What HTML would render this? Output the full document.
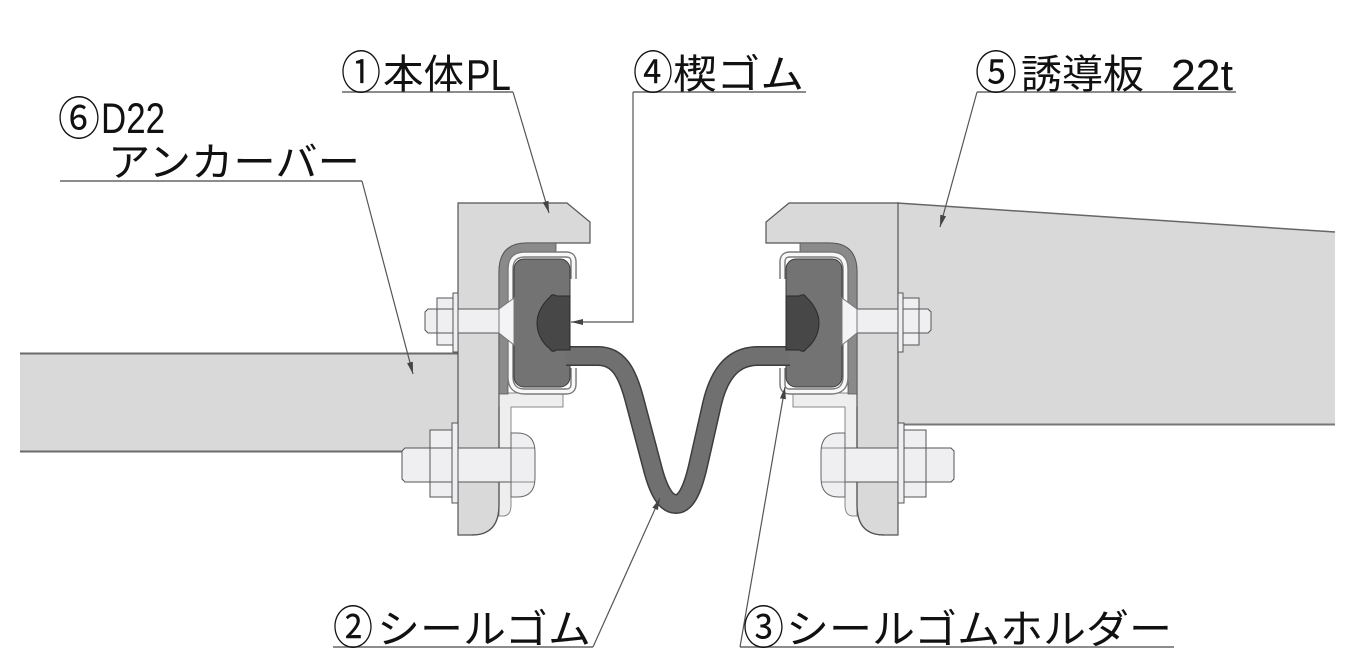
<!DOCTYPE html>
<html>
<head>
<meta charset="utf-8">
<style>
  html,body{margin:0;padding:0;background:#fff;}
  svg{display:block;}
  .jpc{font-family:"Noto Sans CJK JP",sans-serif;fill:#111;}
  .lat{font-family:"Liberation Sans",sans-serif;fill:#111;}
</style>
</head>
<body>
<svg width="1359" height="656" viewBox="0 0 1359 656" xmlns="http://www.w3.org/2000/svg">
  <defs>
    <marker id="ah" markerUnits="userSpaceOnUse" markerWidth="13" markerHeight="7" refX="12" refY="3" orient="auto">
      <path d="M0,0 L12,3 L0,6 Z" fill="#444"/>
    </marker>

    <g id="asmA">
      <path d="M499,393 H563 V407 H511 V505 Q511,516 503,516 H499 Z" fill="#eeeeee" stroke="#8a8a8a" stroke-width="1"/>
      <path d="M458,203 H567 L590,222 V243 H527 Q499,243 499,272 V393 H499 V505 Q499,535 472,535 H458 Z" fill="#d9d9d9" stroke="#555" stroke-width="1.2"/>
      <path d="M499,407 V505 Q499,535 472,535" fill="none" stroke="#555" stroke-width="1.2"/>
      <path d="M556,243 H527 Q499,243 499,272 V394 H508 V276 Q508,252 532,252 H556 Z" fill="#8a8a8a" stroke="#555" stroke-width="0.8"/>
      <path d="M573.5,279 V262 Q573.5,254.5 566,254.5 H525 Q510.5,254.5 510.5,269 V377 Q510.5,391.5 525,391.5 H566 Q573.5,391.5 573.5,384 V368" fill="none" stroke="#7a7a7a" stroke-width="6.5"/>
      <path d="M573.5,279 V262 Q573.5,254.5 566,254.5 H525 Q510.5,254.5 510.5,269 V377 Q510.5,391.5 525,391.5 H566 Q573.5,391.5 573.5,384 V368" fill="none" stroke="#f8f8f8" stroke-width="3.6"/>
      <rect x="514" y="259" width="56" height="128" rx="10" ry="10" fill="#737373" stroke="#3a3a3a" stroke-width="1"/>
      <path d="M428,309 H500 V333 H428 L425,330 V312 Z" fill="#efeff2" stroke="#555" stroke-width="1"/>
      <path d="M499,309 L514,298 V345 L499,333 Z" fill="#f4f4f6" stroke="#777" stroke-width="1"/>
      <rect x="437" y="298" width="16" height="47" fill="#efeff2" stroke="#555" stroke-width="1"/>
      <line x1="437" y1="309" x2="453" y2="309" stroke="#555" stroke-width="1"/>
      <line x1="437" y1="333" x2="453" y2="333" stroke="#555" stroke-width="1"/>
      <rect x="453" y="293" width="5" height="59" fill="#efeff2" stroke="#555" stroke-width="1"/>
      <path d="M405,448 H512 V482 H405 L402,479 V451 Z" fill="#efeff2" stroke="#555" stroke-width="1"/>
      <path d="M511,433 H517 Q535,433 535,452 V478 Q535,497 517,497 H511 Z" fill="#efeff2" stroke="#666" stroke-width="1"/>
      <line x1="511" y1="448" x2="535" y2="448" stroke="#666" stroke-width="0.8"/>
      <line x1="511" y1="482" x2="535" y2="482" stroke="#666" stroke-width="0.8"/>
      <rect x="430" y="430" width="22" height="67" fill="#efeff2" stroke="#555" stroke-width="1"/>
      <line x1="430" y1="448" x2="452" y2="448" stroke="#555" stroke-width="1"/>
      <line x1="430" y1="482" x2="452" y2="482" stroke="#555" stroke-width="1"/>
      <rect x="452" y="423" width="6" height="80" fill="#efeff2" stroke="#555" stroke-width="1"/>
    </g>

    <g id="asmB">
      <path d="M570,296 H557 Q552,293 550,297 C541,305 537,315 537,323 C537,332 541,342 550,349 Q552,353 557,350 H570 Z" fill="#474747" stroke="#2a2a2a" stroke-width="1"/>
    </g>
  </defs>

  <rect x="20" y="353" width="440" height="99" fill="#d9d9d9"/>
  <line x1="20" y1="353.5" x2="460" y2="353.5" stroke="#6a6a6a" stroke-width="2"/>
  <line x1="20" y1="451.5" x2="460" y2="451.5" stroke="#6a6a6a" stroke-width="2"/>

  <polygon points="897,203 1335,232 1335,425 897,425" fill="#d9d9d9"/>
  <line x1="897" y1="203" x2="1335" y2="232" stroke="#666" stroke-width="1.5"/>
  <line x1="897" y1="424.5" x2="1335" y2="424.5" stroke="#777" stroke-width="2"/>

  <use href="#asmA"/>
  <use href="#asmA" transform="translate(1356,0) scale(-1,1)"/>

  <path d="M566,356 H598 C618,356 627,372 634,398 L652,466 C659,494 667,504 676,504 C685,504 692,492 698,466 L712,404 C719,374 733,356 758,356 H790" fill="none" stroke="#3d3d3d" stroke-width="20" stroke-linejoin="round"/>
  <path d="M566,356 H598 C618,356 627,372 634,398 L652,466 C659,494 667,504 676,504 C685,504 692,492 698,466 L712,404 C719,374 733,356 758,356 H790" fill="none" stroke="#707070" stroke-width="17" stroke-linejoin="round"/>

  <use href="#asmB"/>
  <use href="#asmB" transform="translate(1356,0) scale(-1,1)"/>

  <g fill="none" stroke="#666" stroke-width="1.4">
    <line x1="342" y1="92" x2="513" y2="92"/>
    <line x1="633" y1="92" x2="806" y2="92"/>
    <line x1="977" y1="92" x2="1236" y2="92"/>
    <line x1="60" y1="181" x2="362" y2="181"/>
    <line x1="333" y1="647" x2="593" y2="647"/>
    <line x1="740" y1="647" x2="1174" y2="647"/>
  </g>
  <g fill="none" stroke="#555" stroke-width="1.2">
    <path d="M513,92 L549,213" marker-end="url(#ah)"/>
    <path d="M633,92 V322 H571" marker-end="url(#ah)"/>
    <path d="M977,92 L940,227" marker-end="url(#ah)"/>
    <path d="M362,181 L413,374" marker-end="url(#ah)"/>
    <path d="M593,647 L660,498" marker-end="url(#ah)"/>
    <path d="M740,647 L785,387" marker-end="url(#ah)"/>
  </g>

  <!-- labels -->
  <text class="jpc" x="341" y="89" font-size="46" textLength="40" lengthAdjust="spacingAndGlyphs">①</text>
  <text class="jpc" x="383" y="88" font-size="40" textLength="81" lengthAdjust="spacingAndGlyphs">本体</text>
  <text class="lat" x="466" y="90" font-size="44" textLength="45" lengthAdjust="spacingAndGlyphs">PL</text>

  <text class="jpc" x="633" y="89" font-size="46" textLength="40" lengthAdjust="spacingAndGlyphs">④</text>
  <text class="jpc" x="673" y="88" font-size="40" textLength="131" lengthAdjust="spacingAndGlyphs">楔ゴム</text>

  <text class="jpc" x="975" y="89" font-size="46" textLength="42" lengthAdjust="spacingAndGlyphs">⑤</text>
  <text class="jpc" x="1021" y="88" font-size="40" textLength="123" lengthAdjust="spacingAndGlyphs">誘導板</text>
  <text class="lat" x="1171" y="90" font-size="44" textLength="62" lengthAdjust="spacingAndGlyphs">22t</text>

  <text class="jpc" x="58" y="135" font-size="46" textLength="42" lengthAdjust="spacingAndGlyphs">⑥</text>
  <text class="lat" x="101" y="133" font-size="43" textLength="64" lengthAdjust="spacingAndGlyphs">D22</text>
  <text class="jpc" x="108" y="176" font-size="40" textLength="252" lengthAdjust="spacingAndGlyphs">アンカーバー</text>

  <text class="jpc" x="333" y="644" font-size="46" textLength="40" lengthAdjust="spacingAndGlyphs">②</text>
  <text class="jpc" x="377" y="643" font-size="40" textLength="214" lengthAdjust="spacingAndGlyphs">シールゴム</text>
  <text class="jpc" x="743" y="644" font-size="46" textLength="41" lengthAdjust="spacingAndGlyphs">③</text>
  <text class="jpc" x="786" y="643" font-size="40" textLength="386" lengthAdjust="spacingAndGlyphs">シールゴムホルダー</text>
</svg>
</body>
</html>
